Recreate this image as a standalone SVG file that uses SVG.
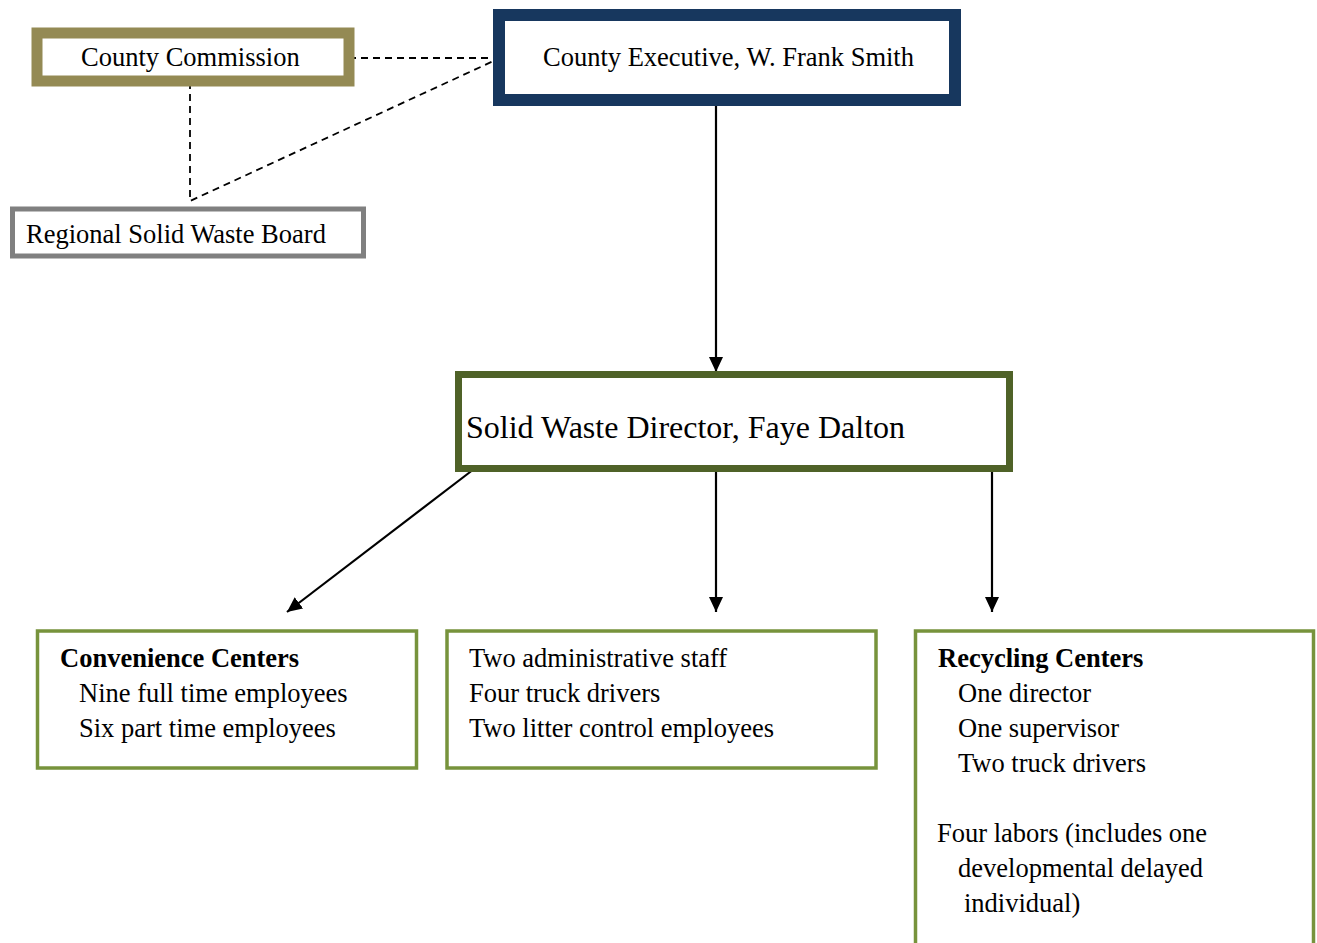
<svg xmlns="http://www.w3.org/2000/svg" width="1317" height="943" viewBox="0 0 1317 943">
<style>
text{font-family:"Liberation Serif","Times New Roman",serif;font-size:26.5px;fill:#000}
.b{font-weight:bold}
.box{fill:#fff}
.dash{fill:none;stroke:#000;stroke-width:1.8;stroke-dasharray:7 5}
.arr{fill:none;stroke:#000;stroke-width:2.2;marker-end:url(#ah)}
</style>
<defs>
<marker id="ah" viewBox="0 0 15 14" refX="15" refY="7" markerWidth="15" markerHeight="14" markerUnits="userSpaceOnUse" orient="auto">
<path d="M0,0 L15,7 L0,14 Z" fill="#000"/>
</marker>
</defs>
<rect width="1317" height="943" fill="#fff"/>
<g id="connectors">
<line class="dash" x1="349" y1="58" x2="500" y2="58"/>
<polyline class="dash" points="190,82 190,201 500,58"/>
<line class="arr" x1="716" y1="106" x2="716" y2="372"/>
<line class="arr" x1="474" y1="469" x2="287" y2="612"/>
<line class="arr" x1="716" y1="471" x2="716" y2="612"/>
<line class="arr" x1="992" y1="470" x2="992" y2="612"/>
</g>
<g id="county-commission">
<rect class="box" x="37" y="33" width="312" height="48" stroke="#948a54" stroke-width="11"/>
<text x="81" y="66">County Commission</text>
</g>
<g id="regional-board">
<rect class="box" x="12.5" y="209" width="351" height="47" stroke="#808080" stroke-width="5"/>
<text x="26" y="243">Regional Solid Waste Board</text>
</g>
<g id="county-executive">
<rect class="box" x="499" y="15" width="456" height="85" stroke="#17375e" stroke-width="12"/>
<text x="543" y="66">County Executive, W. Frank Smith</text>
</g>
<g id="director">
<rect class="box" x="458.5" y="374.5" width="551" height="94" stroke="#4f6228" stroke-width="7"/>
<text x="466" y="438" style="font-size:32px">Solid Waste Director, Faye Dalton</text>
</g>
<g id="convenience-centers">
<rect class="box" x="37.5" y="631" width="379" height="137" stroke="#77933c" stroke-width="3.5"/>
<text class="b" x="60" y="667">Convenience Centers</text>
<text x="79" y="702">Nine full time employees</text>
<text x="79" y="737">Six part time employees</text>
</g>
<g id="staff">
<rect class="box" x="447" y="631" width="429" height="137" stroke="#77933c" stroke-width="3.5"/>
<text x="469" y="667">Two administrative staff</text>
<text x="469" y="702">Four truck drivers</text>
<text x="469" y="737">Two litter control employees</text>
</g>
<g id="recycling-centers">
<rect class="box" x="915.5" y="631" width="398" height="330" stroke="#77933c" stroke-width="3.5"/>
<text class="b" x="938" y="667">Recycling Centers</text>
<text x="958" y="702">One director</text>
<text x="958" y="737">One supervisor</text>
<text x="958" y="772">Two truck drivers</text>
<text x="937" y="842">Four labors (includes one</text>
<text x="958" y="877">developmental delayed</text>
<text x="964" y="912">individual)</text>
</g>
</svg>
